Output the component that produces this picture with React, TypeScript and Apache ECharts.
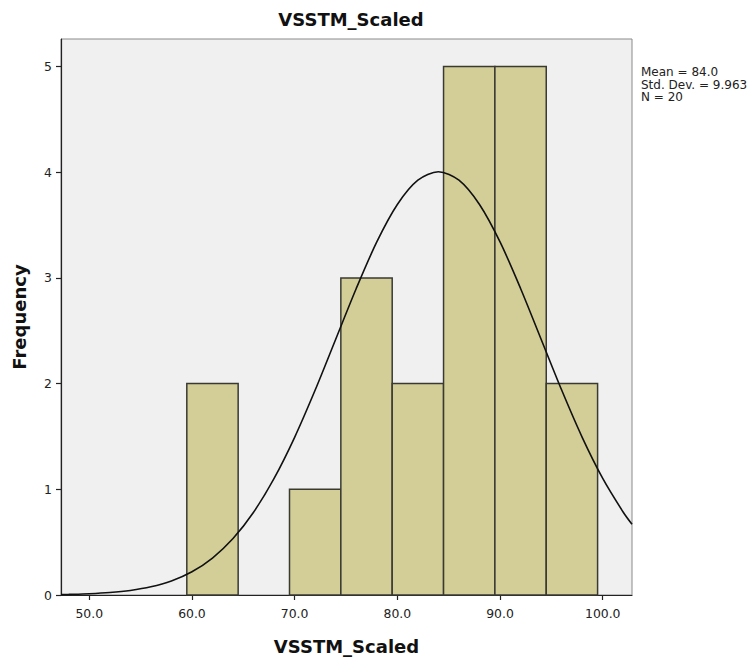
import React, { useEffect, useRef } from "react";
import * as echarts from "echarts";

const binStarts = [59.5, 64.5, 69.5, 74.5, 79.5, 84.5, 89.5, 94.5];
const binEnds = [64.5, 69.5, 74.5, 79.5, 84.5, 89.5, 94.5, 99.5];
const binCounts = [2, 0, 1, 3, 2, 5, 5, 2];

const curveX = [47.25, 48, 50, 52, 54, 56, 58, 60, 62, 64, 66, 68, 70, 72, 74, 76, 78, 80, 82, 84, 86, 88, 90, 92, 94, 96, 98, 100, 102, 102.85];
const curveY = [0.0044, 0.0058, 0.0118, 0.023, 0.043, 0.0772, 0.133, 0.22, 0.35, 0.534, 0.783, 1.103, 1.492, 1.939, 2.42, 2.9, 3.34, 3.694, 3.924, 4.004, 3.924, 3.694, 3.34, 2.9, 2.42, 1.939, 1.492, 1.103, 0.783, 0.669];

const xTicks = [50, 60, 70, 80, 90, 100];
const yTicks = [0, 1, 2, 3, 4, 5];
const statsLines = ["Mean = 84.0", "Std. Dev. = 9.963", "N = 20"];

const FONT = "'DejaVu Sans', 'Liberation Sans', Arial, sans-serif";

export default function App() {
  const ref = useRef<HTMLDivElement>(null);
  useEffect(() => {
    if (!ref.current) return;
    const chart = echarts.init(ref.current, null, { renderer: "svg" });
    const bins = binStarts
      .map((s, i) => [s, binEnds[i], binCounts[i]])
      .filter((b) => b[2] > 0);
    chart.setOption({
      animation: false,
      backgroundColor: "#ffffff",
      textStyle: { fontFamily: FONT },
      title: {
        text: "VSSTM_Scaled",
        left: 346,
        textAlign: "center",
        top: 5,
        textStyle: { fontFamily: FONT, fontSize: 18, fontWeight: "bold", color: "#111" },
      },
      grid: {
        left: 61,
        top: 39,
        right: 124,
        bottom: 65,
        show: true,
        backgroundColor: "#f0f0f0",
        borderColor: "#8a8a8a",
        borderWidth: 1,
      },
      xAxis: {
        type: "value",
        min: 47.25,
        max: 102.85,
        splitNumber: 5,
        name: "VSSTM_Scaled",
        nameLocation: "middle",
        nameGap: 42,
        nameTextStyle: { fontFamily: FONT, fontSize: 18, fontWeight: "bold", color: "#111" },
        axisLine: { show: true, onZero: false, lineStyle: { color: "#222", width: 1.2 } },
        axisTick: { show: true, length: 5, customValues: xTicks, lineStyle: { color: "#222", width: 1.2 } },
        axisLabel: {
          customValues: xTicks,
          formatter: (v: number) => v.toFixed(1),
          color: "#222",
          fontSize: 12.4,
          fontFamily: FONT,
          margin: 12,
        },
        splitLine: { show: false },
      },
      yAxis: {
        type: "value",
        min: 0,
        max: 5.26,
        name: "Frequency",
        nameLocation: "middle",
        nameGap: 33,
        nameTextStyle: { fontFamily: FONT, fontSize: 18, fontWeight: "bold", color: "#111" },
        axisLine: { show: true, lineStyle: { color: "#222", width: 1.2 } },
        axisTick: { show: true, length: 5, customValues: yTicks, lineStyle: { color: "#222", width: 1.2 } },
        axisLabel: {
          customValues: yTicks,
          color: "#222",
          fontSize: 12.4,
          fontFamily: FONT,
          margin: 9,
        },
        splitLine: { show: false },
      },
      series: [
        {
          type: "custom",
          data: bins,
          encode: { x: [0, 1], y: 2 },
          renderItem: (params: any, api: any) => {
            const p0 = api.coord([api.value(0), api.value(2)]);
            const p1 = api.coord([api.value(1), 0]);
            return {
              type: "rect",
              shape: { x: p0[0], y: p0[1], width: p1[0] - p0[0], height: p1[1] - p0[1] },
              style: { fill: "#d3ce98", stroke: "#3a3a33", lineWidth: 1.5 },
            };
          },
          z: 2,
        },
        {
          type: "line",
          data: curveX.map((x, i) => [x, curveY[i]]),
          smooth: 0.3,
          showSymbol: false,
          symbol: "none",
          lineStyle: { color: "#111", width: 1.6 },
          z: 3,
        },
      ],
      graphic: [
        {
          type: "text",
          left: 641,
          top: 66,
          style: {
            text: statsLines.join("\n"),
            fontSize: 12,
            lineHeight: 12.5,
            fontFamily: FONT,
            fill: "#222",
          },
        },
      ],
    });
    return () => chart.dispose();
  }, []);
  return (
    <div
      ref={ref}
      style={{ position: "fixed", left: 0, top: 0, width: 756, height: 660 }}
    />
  );
}
